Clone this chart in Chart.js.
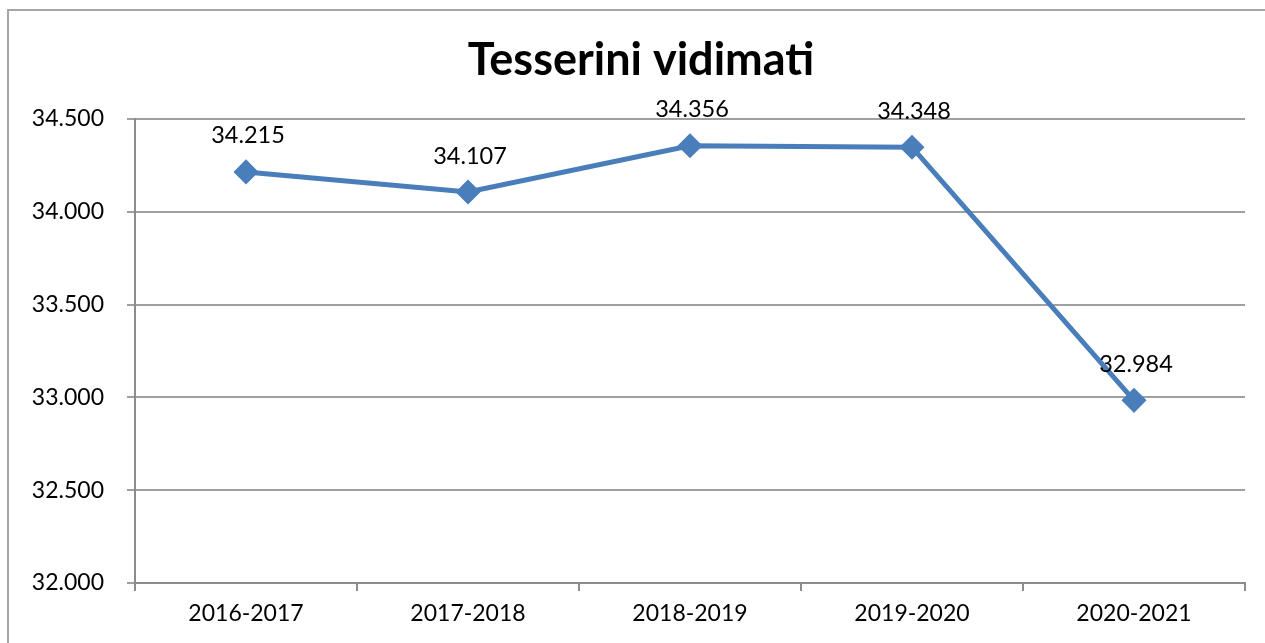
<!DOCTYPE html>
<html>
<head>
<meta charset="utf-8">
<script src="https://cdn.jsdelivr.net/npm/chart.js@4"></script>
<style>
  html, body { margin: 0; padding: 0; background: #fff; }
  #wrap { width: 1265px; height: 643px; }
</style>
</head>
<body>
<div id="wrap"><canvas id="chart" width="1265" height="643"></canvas></div>
<script>
const ctx = document.getElementById("chart");

const seasons = ["2016-2017", "2017-2018", "2018-2019", "2019-2020", "2020-2021"];
const tesserini = [34215, 34107, 34356, 34348, 32984];
const yMin = 32000;
const yMax = 34500;
const yStep = 500;
const chartTitle = "Tesserini vidimati";

const fontName = "Lato, 'Open Sans', sans-serif";

function fmt(n) {
  return String(n).replace(/\B(?=(\d{3})+(?!\d))/g, ".");
}

// outer frame + title (title centred on the frame, not on the plot)
const framePlugin = {
  id: "frame",
  beforeDraw(chart) {
    const c = chart.ctx;
    c.save();
    c.strokeStyle = "#a6a6a6";
    c.lineWidth = 2;
    c.strokeRect(8, 10, chart.width + 20, chart.height + 20);
    c.font = "bold 45px " + fontName;
    c.fillStyle = "#000";
    c.textAlign = "center";
    c.textBaseline = "middle";
    c.fillText(chartTitle, 641, 60);
    c.restore();
  },
};

// value labels above points
const labelPlugin = {
  id: "pointLabels",
  afterDatasetsDraw(chart) {
    const c = chart.ctx;
    const meta = chart.getDatasetMeta(0);
    c.save();
    c.font = "23.5px " + fontName;
    c.fillStyle = "#000";
    c.textAlign = "center";
    c.textBaseline = "middle";
    meta.data.forEach((pt, i) => {
      c.fillText(fmt(chart.data.datasets[0].data[i]), pt.x + 2, pt.y - 36);
    });
    c.restore();
  },
};

new Chart(ctx, {
  type: "line",
  data: {
    labels: seasons,
    datasets: [
      {
        label: chartTitle,
        data: tesserini,
        borderColor: "#4a7ebb",
        backgroundColor: "#4a7ebb",
        borderWidth: 5,
        pointStyle: "rectRot",
        pointRadius: 9,
        pointHoverRadius: 9,
        tension: 0,
      },
    ],
  },
  options: {
    responsive: false,
    animation: false,
    layout: {
      padding: { top: 119, left: 0, right: 20, bottom: 0 },
    },
    scales: {
      x: {
        offset: true,
        afterFit: (scale) => { scale.height = 60; },
        grid: {
          offset: true,
          drawOnChartArea: false,
          drawTicks: true,
          tickLength: 8,
          color: "#8c8c8c",
          lineWidth: 2,
        },
        border: { display: true, color: "#8c8c8c", width: 2 },
        ticks: {
          color: "#000",
          padding: 9,
          font: { family: fontName, size: 23 },
        },
      },
      y: {
        min: yMin,
        max: yMax,
        afterFit: (scale) => { scale.width = 135; },
        grid: {
          color: "#a0a0a0",
          lineWidth: 2,
          tickLength: 8,
        },
        border: { display: true, color: "#8c8c8c", width: 2 },
        ticks: {
          stepSize: yStep,
          color: "#000",
          padding: 23,
          font: { family: fontName, size: 23 },
          callback: (v) => fmt(v),
        },
      },
    },
    plugins: {
      legend: { display: false },
      tooltip: { enabled: false },
      title: { display: false },
    },
  },
  plugins: [framePlugin, labelPlugin],
});
</script>
</body>
</html>
